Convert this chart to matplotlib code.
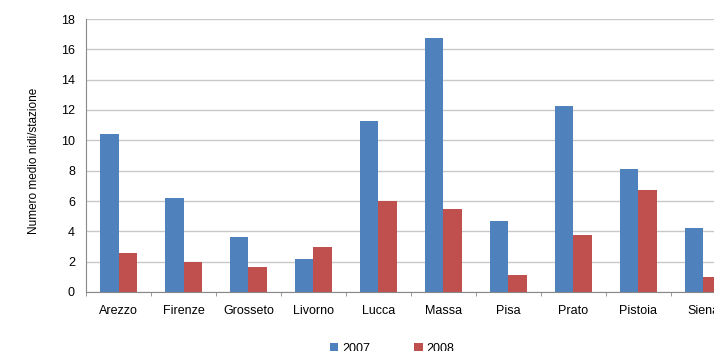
import matplotlib.pyplot as plt
import numpy as np

# dati
province = ["Arezzo", "Firenze", "Grosseto", "Livorno", "Lucca",
            "Massa", "Pisa", "Prato", "Pistoia", "Siena"]
anno_2007 = [10.45, 6.2, 3.65, 2.15, 11.3, 16.75, 4.65, 12.25, 8.1, 4.25]
anno_2008 = [2.6, 1.95, 1.65, 3.0, 6.0, 5.45, 1.15, 3.75, 6.7, 1.0]

plt.rcParams["font.family"] = ["Liberation Sans", "DejaVu Sans"]

fig = plt.figure(figsize=(7.14, 3.51), dpi=100)
# l'area del grafico esce a destra come nell'originale
ax = fig.add_axes([86 / 714, 1 - 292 / 351, 650 / 714, 273 / 351])

x = np.arange(len(province))
w = 0.285
ax.bar(x - w / 2, anno_2007, width=w, color="#4F81BD", label="2007", zorder=2)
ax.bar(x + w / 2, anno_2008, width=w, color="#C0504D", label="2008", zorder=2)

ax.set_xlim(-0.5, len(province) - 0.5)
ax.set_ylim(0, 18)
ax.set_yticks(range(0, 19, 2))
ax.yaxis.grid(True, color="#C8C8C8", linewidth=1, zorder=0)
ax.set_axisbelow(True)

ax.set_xticks(x)
ax.set_xticklabels(province, fontsize=9)
ax.set_xticks(np.arange(-0.5, len(province), 1), minor=True)
ax.tick_params(axis="x", which="major", length=0, pad=9)
ax.tick_params(axis="x", which="minor", length=3, color="#888888")
ax.tick_params(axis="y", length=0, labelsize=9, pad=8)

for s in ["top", "right"]:
    ax.spines[s].set_visible(False)
ax.spines["left"].set_color("#888888")
ax.spines["bottom"].set_color("#888888")

ax.set_ylabel("Numero medio nidi/stazione", fontsize=8.5)
ax.yaxis.set_label_coords(-0.071, 0.48)

fig.legend(loc="center", bbox_to_anchor=(392 / 714, 1 - 349 / 351), ncol=2,
           frameon=False, fontsize=9, handlelength=0.7, handleheight=0.7,
           columnspacing=3.5, handletextpad=0.3)

fig.savefig("out.png", dpi=100)
